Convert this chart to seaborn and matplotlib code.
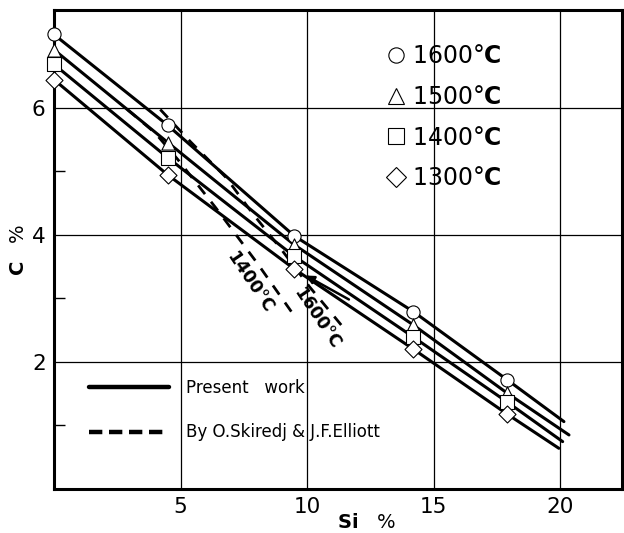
import numpy as np
import pandas as pd
import matplotlib
matplotlib.use('Agg')
import matplotlib.pyplot as plt
from matplotlib.lines import Line2D
from matplotlib.ticker import FixedLocator
import seaborn as sns

# ============================================================
# Data
# ============================================================
temps = [1600, 1500, 1400, 1300]
markers = ['o', '^', 's', 'D']

# measured points (Si %, C %)
si_pts = [0, 4.5, 9.5, 14.2, 17.9]
c_1600 = [7.15, 5.72, 3.98, 2.79, 1.72]
c_1500 = [6.91, 5.45, 3.84, 2.58, 1.51]
c_1400 = [6.68, 5.21, 3.66, 2.39, 1.37]
c_1300 = [6.44, 4.94, 3.46, 2.20, 1.18]

# end of each fitted line (present work)
si_end = [20.15, 20.35, 20.1, 19.95]
c_end = [1.06, 0.85, 0.745, 0.64]

# dashed lines, O.Skiredj & J.F.Elliott
dash_1600_si = [4.2, 5.4, 6.8, 7.8, 9.0, 10.1, 11.35]
dash_1600_c = [5.97, 5.46, 4.9, 4.36, 3.76, 3.18, 2.58]
dash_1400_si = [2.9, 4.0, 4.9, 6.4, 8.0, 9.45]
dash_1400_c = [5.97, 5.6, 5.18, 4.42, 3.57, 2.75]

x_ticks = [5, 10, 15, 20]
y_ticks = [2, 4, 6]
y_minor = [1, 3, 5]

c_series = [c_1600, c_1500, c_1400, c_1300]

# ============================================================
# Plot
# ============================================================
sns.set_style('white')
plt.rcParams['font.family'] = ['DejaVu Sans']
plt.rcParams['mathtext.fontset'] = 'dejavusans'
for k in ['text.color', 'axes.labelcolor', 'xtick.color', 'ytick.color']:
    plt.rcParams[k] = 'black'

fig = plt.figure(figsize=(6.24, 5.33), dpi=100)
ax = fig.add_axes([0.0865, 0.0826, 0.9105, 0.898])

for t, cs, xe, ye in zip(temps, c_series, si_end, c_end):
    line = pd.DataFrame({'Si': si_pts + [xe], 'C': cs + [ye]})
    sns.lineplot(data=line, x='Si', y='C', ax=ax, color='black', lw=2.2,
                 sort=False, estimator=None)

for xs, ys in [(dash_1600_si, dash_1600_c), (dash_1400_si, dash_1400_c)]:
    sns.lineplot(x=xs, y=ys, ax=ax, color='black', lw=2.0, sort=False,
                 estimator=None, dashes=False, linestyle=(0, (4, 3.5)))

for t, cs, m in zip(temps, c_series, markers):
    sns.scatterplot(x=si_pts, y=cs, ax=ax, marker=m, s=90 if m != 'D' else 75,
                    facecolor='white', edgecolor='black', linewidth=0.8,
                    zorder=5, clip_on=False)

# dashed-line labels
ax.text(7.75, 3.25, '1400°C', rotation=-56, ha='center', va='center',
        fontsize=12.5, fontweight='bold')
ax.text(10.4, 2.68, '1600°C', rotation=-56, ha='center', va='center',
        fontsize=12.5, fontweight='bold')
ax.annotate('', xy=(9.85, 3.38), xytext=(11.75, 2.96),
            arrowprops=dict(arrowstyle='-|>', lw=1.8, color='black',
                            mutation_scale=12))

ax.set_xlim(0, 22.45)
ax.set_ylim(0, 7.53)
ax.set_xticks(x_ticks)
ax.set_yticks(y_ticks)
ax.yaxis.set_minor_locator(FixedLocator(y_minor))
ax.tick_params(axis='both', which='major', length=0, labelsize=15.5, pad=6)
ax.tick_params(axis='y', which='minor', direction='in', length=8,
               width=1, left=True)
ax.grid(True, which='major', color='black', lw=0.9)
for s in ax.spines.values():
    s.set_color('black')
    s.set_linewidth(2.2)

ax.set_xlabel(r'$\mathbf{Si}$   %', fontsize=14, va='center')
ax.xaxis.set_label_coords(0.55, -0.07)
ax.set_ylabel(r'$\mathbf{C}$   %', fontsize=14, va='center')
ax.yaxis.set_label_coords(-0.063, 0.5)

# legend: temperatures
temp_handles = [Line2D([], [], ls='none', marker=m, ms=11 if m != 'D' else 10,
                       mfc='white', mec='black', mew=0.8) for m in markers]
temp_labels = [f'{t}°' + r'$\mathbf{C}$' for t in temps]
leg1 = ax.legend(temp_handles, temp_labels, loc='upper left',
                 bbox_to_anchor=(0.543, 0.974), frameon=False, fontsize=17,
                 labelspacing=0.71, handletextpad=0.2, handlelength=1.0)
ax.add_artist(leg1)

# legend: line styles
style_handles = [Line2D([], [], color='black', lw=3.2),
                 Line2D([], [], color='black', lw=3.2, ls=(0, (3, 1.5)))]
style_labels = ['Present   work', 'By O.Skiredj & J.F.Elliott']
ax.legend(style_handles, style_labels, loc='lower left',
          bbox_to_anchor=(0.035, 0.068), frameon=False, fontsize=12,
          labelspacing=1.6, handlelength=4.8, handletextpad=1.0)

plt.savefig('out.png', dpi=100)
